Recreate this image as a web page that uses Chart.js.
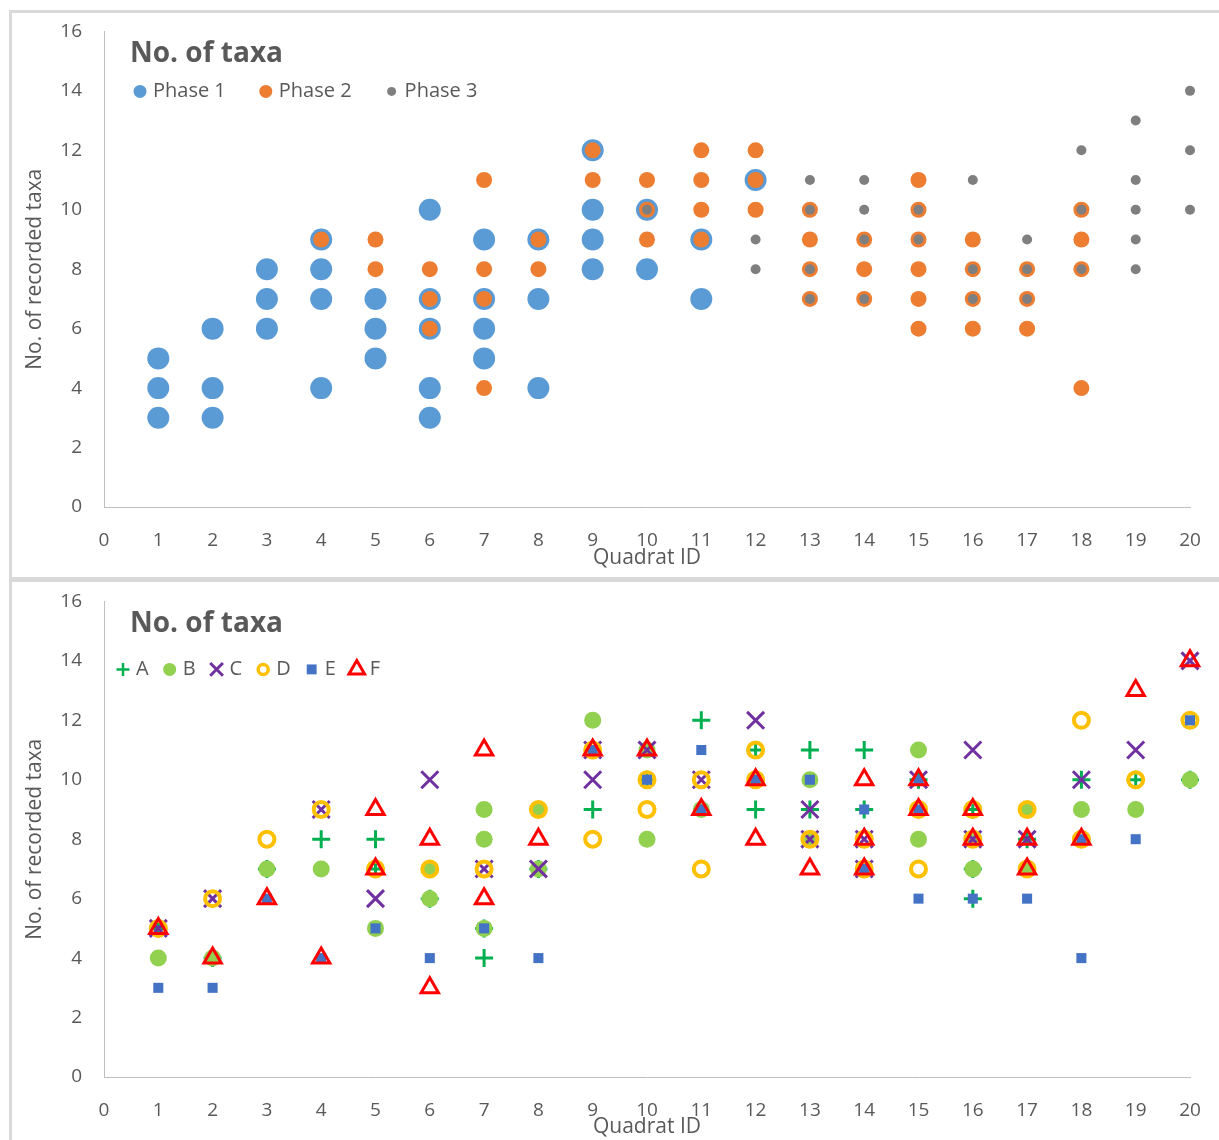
<!DOCTYPE html>
<html>
<head>
<meta charset="utf-8">
<script src="https://cdn.jsdelivr.net/npm/chart.js@4.4.0/dist/chart.umd.min.js"></script>
<style>
  body { margin: 0; background: #fff; overflow: hidden; width: 1219px; height: 1140px; position: relative; }
  .panel { position: absolute; left: 9px; width: 1230px; border: 3px solid #d9d9d9; background: #fff; }
  #p1 { top: 10px; height: 564px; }
  #p2 { top: 579px; height: 600px; }
  canvas { position: absolute; left: 0; }
  #phases { top: -15px; }
  #groups { top: -14px; }
</style>
</head>
<body>
<div class="panel" id="p1"><canvas id="phases" width="1207" height="579"></canvas></div>
<div class="panel" id="p2"><canvas id="groups" width="1207" height="572"></canvas></div>

<script>
// quadrat IDs, one entry per quadrat in the lists below
const quadrats = [1, 2, 3, 4, 5, 6, 7, 8, 9, 10, 11, 12, 13, 14, 15, 16, 17, 18, 19, 20];

// no. of recorded taxa per quadrat, by phase
const phase1 = [[3,4,5],[3,4,6],[6,7,8],[4,7,8,9],[5,6,7],[3,4,6,7,10],[5,6,7,9],[4,7,9],[8,9,10,12],[8,10],
                [7,9],[11],[],[],[],[],[],[],[],[]];
const phase2 = [[],[],[],[9],[8,9],[6,7,8],[4,7,8,11],[8,9],[11,12],[9,10,11],
                [9,10,11,12],[10,11,12],[7,8,9,10],[7,8,9],[6,7,8,9,10,11],[6,7,8,9],[6,7,8],[4,8,9,10],[],[]];
const phase3 = [[],[],[],[],[],[],[],[],[],[10],
                [],[8,9],[7,8,10,11],[7,9,10,11],[9,10],[7,8,11],[7,8,9],[8,10,12],[8,9,10,11,13],[10,12,14]];

// no. of recorded taxa per quadrat, by group A-F
const groupA = [[5],[4],[7],[8],[7,8],[6],[4,5],[7],[9],[10],[12],[9,11],[9,11],[9,11],[10],[6,7,9],[8],[10],[10],[10]];
const groupB = [[4],[4],[7],[7],[5],[6,7],[5,8,9],[7,9],[12],[8,11],[9],[10],[8,10],[7],[8,11],[7,8],[7,9],[9],[9],[10]];
const groupC = [[5],[6],[],[9],[6],[10],[7],[7],[10,11],[11],[10],[12],[8,9],[7,8],[10],[8,11],[8],[10],[11],[14]];
const groupD = [[5],[6],[8],[9],[7],[7],[7],[9],[8,11],[9,10],[7,10],[10,11],[8],[7,8],[7,9],[8,9],[7,9],[8,12],[10],[12]];
const groupE = [[3],[3],[6],[4],[5],[4],[5],[4],[11],[10],[9,11],[10],[10],[7,9],[6,9,10],[6],[6],[4,8],[8],[12]];
const groupF = [[5],[4],[6],[4],[7,9],[3,8],[6,11],[8],[11],[11],[9],[8,10],[7],[7,8,10],[9,10],[8,9],[7,8],[8],[13],[14]];

const yTicks = [0, 2, 4, 6, 8, 10, 12, 14, 16];
const xTicks = quadrats.concat([0]);

function toPoints(list) {
    return quadrats.flatMap((q, i) => list[i].map(v => ({ x: q, y: v })));
}

const textColor = '#595959';
const fontName = '"Open Sans", sans-serif';

// title + legend drawn inside the plot area
const overlay = {
    id: 'overlay',
    afterDraw(chart, args, opts) {
        const ctx = chart.ctx;
        const area = chart.chartArea;
        ctx.save();
        ctx.fillStyle = textColor;
        ctx.textBaseline = 'middle';
        ctx.font = 'bold 28px ' + fontName;
        ctx.fillText('No. of taxa', area.left + 26, area.top + opts.titleY);

        ctx.font = '20px ' + fontName;
        let x = area.left + opts.legendX;
        const y = area.top + opts.legendY;
        chart.data.datasets.forEach(ds => {
            ctx.save();
            ctx.fillStyle = ds.pointBackgroundColor;
            ctx.strokeStyle = ds.pointBorderColor;
            ctx.lineWidth = ds.legendBorder;
            Chart.helpers.drawPoint(ctx, {
                pointStyle: ds.pointStyle, radius: ds.legendRadius, rotation: 0, borderWidth: ds.legendBorder
            }, x, y);
            ctx.restore();
            ctx.fillStyle = textColor;
            ctx.fillText(ds.label, x + 13, y);
            x += 13 + ctx.measureText(ds.label).width + opts.gap;
        });
        ctx.restore();
    }
};

function makeChart(id, datasets, extra) {
    return new Chart(document.getElementById(id), {
        type: 'scatter',
        data: { datasets: datasets },
        plugins: [overlay],
        options: {
            responsive: false,
            animation: false,
            events: [],
            devicePixelRatio: 1,
            layout: { padding: { left: 0, top: 0, right: 29, bottom: 0 } },
            plugins: {
                legend: { display: false },
                tooltip: { enabled: false },
                overlay: extra.overlay
            },
            scales: {
                x: {
                    type: 'linear', min: 0, max: 20,
                    afterBuildTicks: s => { s.ticks = xTicks.map(v => ({ value: v })); },
                    grid: { display: false, drawTicks: false },
                    border: { display: true, color: '#bfbfbf', width: 1 },
                    ticks: { color: textColor, font: { family: fontName, size: 19 }, padding: 22, maxRotation: 0, autoSkip: false },
                    title: { display: true, text: 'Quadrat ID', color: textColor, font: { family: fontName, size: 21 },
                             padding: { top: 0, bottom: extra.titlePad } },
                    afterFit: s => { s.height = extra.xHeight; }
                },
                y: {
                    type: 'linear', min: 0, max: 16,
                    afterBuildTicks: s => { s.ticks = yTicks.map(v => ({ value: v })); },
                    grid: { display: false, drawTicks: false },
                    border: { display: true, color: '#bfbfbf', width: 1 },
                    ticks: { color: textColor, font: { family: fontName, size: 19 }, padding: 22 },
                    title: { display: true, text: 'No. of recorded taxa', color: textColor, font: { family: fontName, size: 21 },
                             padding: { top: 10, bottom: 0 } },
                    afterFit: s => { s.width = 92; }
                }
            }
        }
    });
}

makeChart('phases', [
    { label: 'Phase 1', data: toPoints(phase1), pointStyle: 'circle', pointRadius: 11,
      pointBackgroundColor: '#5b9bd5', pointBorderColor: '#5b9bd5', pointBorderWidth: 0,
      order: 3, clip: false, legendRadius: 6.5, legendBorder: 0 },
    { label: 'Phase 2', data: toPoints(phase2), pointStyle: 'circle', pointRadius: 8,
      pointBackgroundColor: '#ed7d31', pointBorderColor: '#ed7d31', pointBorderWidth: 0,
      order: 2, clip: false, legendRadius: 6.5, legendBorder: 0 },
    { label: 'Phase 3', data: toPoints(phase3), pointStyle: 'circle', pointRadius: 5,
      pointBackgroundColor: '#7f7f7f', pointBorderColor: '#7f7f7f', pointBorderWidth: 0,
      order: 1, clip: false, legendRadius: 4.5, legendBorder: 0 }
], { xHeight: 70, titlePad: 6, overlay: { titleY: 23, legendX: 36, legendY: 60, gap: 40 } });

makeChart('groups', [
    { label: 'A', data: toPoints(groupA), pointStyle: 'cross', pointRadius: 9,
      pointBackgroundColor: 'rgba(0,0,0,0)', pointBorderColor: '#00b050', pointBorderWidth: 3,
      order: 6, clip: false, legendRadius: 6.5, legendBorder: 2.5 },
    { label: 'B', data: toPoints(groupB), pointStyle: 'circle', pointRadius: 8.5,
      pointBackgroundColor: '#92d050', pointBorderColor: '#92d050', pointBorderWidth: 0,
      order: 5, clip: false, legendRadius: 6.5, legendBorder: 0 },
    { label: 'C', data: toPoints(groupC), pointStyle: 'crossRot', pointRadius: 12,
      pointBackgroundColor: 'rgba(0,0,0,0)', pointBorderColor: '#7030a0', pointBorderWidth: 3,
      order: 4, clip: false, legendRadius: 9, legendBorder: 3 },
    { label: 'D', data: toPoints(groupD), pointStyle: 'circle', pointRadius: 7.5,
      pointBackgroundColor: 'rgba(0,0,0,0)', pointBorderColor: '#ffc000', pointBorderWidth: 4,
      order: 3, clip: false, legendRadius: 5, legendBorder: 3.5 },
    { label: 'E', data: toPoints(groupE), pointStyle: 'rect', pointRadius: 7.1,
      pointBackgroundColor: '#4472c4', pointBorderColor: '#4472c4', pointBorderWidth: 0,
      order: 2, clip: false, legendRadius: 7, legendBorder: 0 },
    { label: 'F', data: toPoints(groupF), pointStyle: 'triangle', pointRadius: 10,
      pointBackgroundColor: 'rgba(0,0,0,0)', pointBorderColor: '#ff0000', pointBorderWidth: 3,
      order: 1, clip: false, legendRadius: 9, legendBorder: 3 }
], { xHeight: 63, titlePad: 0, overlay: { titleY: 23, legendX: 19, legendY: 68, gap: 21 } });
</script>
</body>
</html>
